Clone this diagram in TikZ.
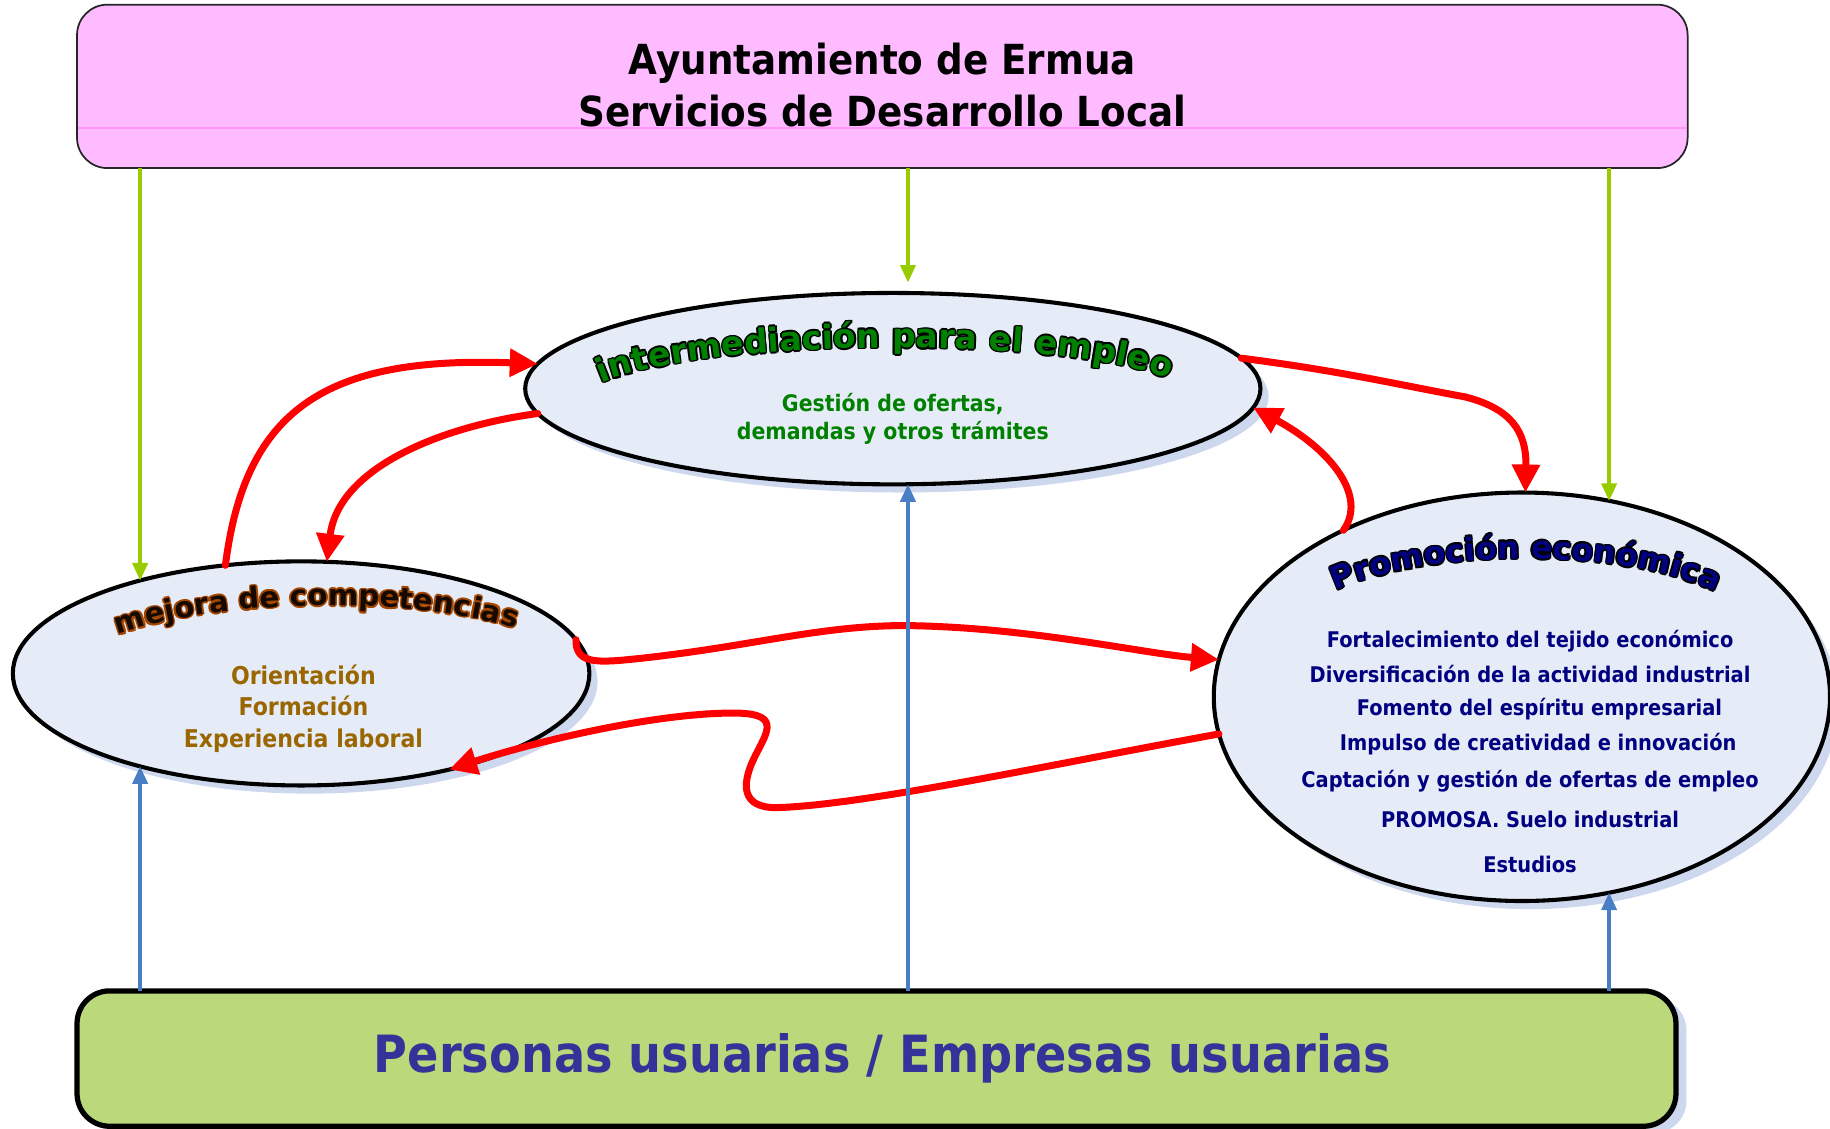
\documentclass[tikz,border=0pt]{standalone}
\usepackage{fontspec}
\setmainfont{DejaVu Sans}[FakeStretch=0.9]
\newfontfamily\archfont{DejaVu Sans}
\usetikzlibrary{arrows.meta,shapes.geometric,decorations.text}

\definecolor{pinkfill}{RGB}{255,187,255}
\definecolor{pinkline}{RGB}{255,150,255}
\definecolor{greenfill}{RGB}{187,216,122}
\definecolor{ellfill}{RGB}{230,236,247}
\definecolor{ellshadow}{RGB}{205,215,237}
\definecolor{limegreen}{RGB}{153,204,0}
\definecolor{arrowblue}{RGB}{74,126,196}
\definecolor{txtgreen}{RGB}{0,128,0}
\definecolor{txtbrown}{RGB}{153,102,0}
\definecolor{txtnavy}{RGB}{0,0,128}
\definecolor{purpleblue}{RGB}{51,51,153}
\definecolor{archbrown}{RGB}{165,70,0}
\definecolor{archblack}{RGB}{20,10,0}

% #1 path, #2 size, #3 fill colour, #4 outline colour, #5 text
\newcommand\archtext[5]{%
  \foreach \dx/\dy in {-1.4/0,1.4/0,0/-1.4,0/1.4,-1/-1,1/1,-1/1,1/-1}{%
    \path[xshift=\dx pt, yshift=\dy pt, decorate,
      decoration={text along path, text align=center,
        text={|\archfont\bfseries\fontsize{#2}{#2}\selectfont\color{#4}|#5}}] #1;}%
  \path[decorate, decoration={text along path, text align=center,
      text={|\archfont\bfseries\fontsize{#2}{#2}\selectfont\color{#3}|#5}}] #1;}

\tikzset{
  ell/.style={ellipse, draw=black, line width=3.5pt, fill=ellfill, inner sep=0pt, outer sep=0pt},
  shadowell/.style={ellipse, fill=ellshadow, draw=none, inner sep=0pt, outer sep=0pt},
  topbox/.style={rectangle, rounded corners=26pt, draw=black!85, line width=1.5pt, fill=pinkfill, inner sep=0pt, outer sep=0pt},
  botbox/.style={rectangle, rounded corners=28pt, draw=black, line width=4.5pt, fill=greenfill, inner sep=0pt, outer sep=0pt},
  botshadow/.style={rectangle, rounded corners=28pt, draw=none, fill=ellshadow, inner sep=0pt},
  redarrow/.style={draw=red, line width=6pt, line cap=round, -{Triangle[length=24pt,width=23pt]}},
  greenarrow/.style={draw=limegreen, line width=3pt, -{Triangle[length=15pt,width=13pt]}},
  bluearrow/.style={draw=arrowblue, line width=3pt, -{Triangle[length=15pt,width=13pt]}},
  bodytext/.style={font=\bfseries\fontsize{#1}{#1}\selectfont, align=center, inner sep=0pt},
}

\begin{document}
\begin{tikzpicture}[x=1pt, y=-1pt]
\useasboundingbox (0,0) rectangle (1568,967);

% top box
\node[topbox, minimum width=1380pt, minimum height=140pt] (top) at (756,74) {};
\draw[pinkline, line width=1.5pt] (67,109.5) -- (1445,109.5);
\node[font=\bfseries\fontsize{35.5}{45}\selectfont, align=center, inner sep=0pt] (title) at (756,73)
  {Ayuntamiento de Ermua\\Servicios de Desarrollo Local};

% bottom box
\node[botshadow, minimum width=1370pt, minimum height=116pt] (botsh) at (760,913) {};
\node[botbox, minimum width=1370pt, minimum height=116pt] (bot) at (751,907) {};
\node[font=\bfseries\fontsize{44}{50}\selectfont, text=purpleblue, inner sep=0pt] (bottitle) at (756,907)
  {Personas usuarias / Empresas usuarias};

% ellipse shadows
\node[shadowell, minimum width=630pt, minimum height=164pt] (intersh) at (772,340) {};
\node[shadowell, minimum width=494pt, minimum height=192pt] (mejsh) at (265,584) {};
\node[shadowell, minimum width=528pt, minimum height=350pt] (prosh) at (1311,604) {};

% ellipses
\node[ell, minimum width=630pt, minimum height=164pt] (inter) at (765,333) {};
\node[ell, minimum width=494pt, minimum height=192pt] (mej) at (258,577) {};
\node[ell, minimum width=528pt, minimum height=350pt] (pro) at (1304,597) {};

% arched titles
\archtext{(512,330) .. controls (600,288) and (920,288) .. (1005,326)}{28.5}{txtgreen}{black}{intermediación para el empleo}
\archtext{(97,546) .. controls (180,512) and (360,510) .. (446,540)}{25}{archblack}{archbrown}{mejora de competencias}
\archtext{(1143,507) .. controls (1220,470) and (1390,468) .. (1472,508)}{27}{txtnavy}{black}{Promoción económica}

% body texts
\node[bodytext=19.5, text=txtgreen] (intertext) at (765,359)
  {Gestión de ofertas,\\[5pt]demandas y otros trámites};
\node[bodytext=21, text=txtbrown] (mejtext) at (260,607)
  {Orientación\\[6pt]Formación\\[6pt]Experiencia laboral};
\node[bodytext=18.5, text=txtnavy] (protext) at (1311,644)
  {Fortalecimiento del tejido económico\\[10pt]
   Diversificación de la actividad industrial\\[10pt]
   \hspace*{16pt}Fomento del espíritu empresarial\\[10pt]
   \hspace*{14pt}Impulso de creatividad e innovación\\[12pt]
   Captación y gestión de ofertas de empleo\\[16pt]
   PROMOSA. Suelo industrial\\[20pt]
   Estudios};

% red arrows
\draw[redarrow] (mej.125) .. controls (210,350) and (280,305) .. (inter.176);
\draw[redarrow] (inter.184) .. controls (380,365) and (290,400) .. (mej.77);
\draw[redarrow] (inter.5) .. controls (1150,318) and (1200,330) .. (1255,340)
  .. controls (1295,350) and (1308,370) .. (pro.89);
\draw[redarrow] (pro.137) .. controls (1172,425) and (1140,385) .. (inter.357);
\draw[redarrow] (mej.7) .. controls (493,568) and (510,568) .. (540,565)
  .. controls (640,555) and (700,536) .. (775,536)
  .. controls (880,537) and (980,560) .. (pro.173);
\draw[redarrow] (pro.187) .. controls (900,655) and (740,690) .. (665,692)
  .. controls (635,692) and (636,672) .. (645,652)
  .. controls (655,630) and (672,612) .. (632,611)
  .. controls (570,610) and (470,632) .. (mej.327);

% green arrows
\draw[greenarrow] (top.south -| mej.150) -- (mej.150);
\draw[greenarrow, shorten >=9pt] (top.south -| inter.81) -- (inter.81);
\draw[greenarrow] (top.south -| pro.66) -- (pro.66);

% blue arrows
\draw[bluearrow] (bot.north -| mej.210) -- (mej.210);
\draw[bluearrow] (bot.north -| inter.279) -- (inter.279);
\draw[bluearrow] (bot.north -| pro.294) -- (pro.294);
\end{tikzpicture}
\end{document}
